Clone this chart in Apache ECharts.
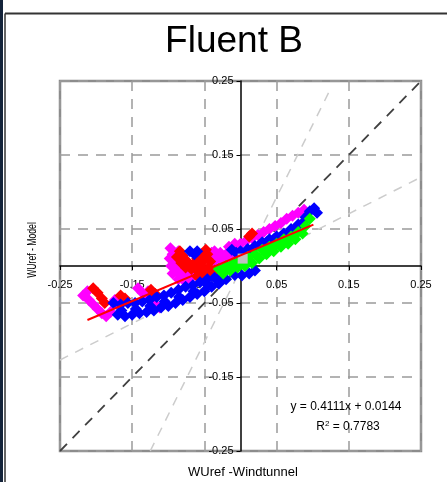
<!DOCTYPE html>
<html><head><meta charset="utf-8">
<script src="https://cdn.jsdelivr.net/npm/echarts@6/dist/echarts.min.js"></script>
<style>html,body{margin:0;padding:0;background:#fff;}#c{width:447px;height:482px;}</style>
</head><body><div id="c"></div>
<script>
var xTickLabels = ['-0.25','-0.15','-0.05','0.05','0.15','0.25'];
var yTickLabels = ['-0.25','-0.15','-0.05','0.05','0.15','0.25'];
var magentaPts = [[-0.218,-0.040],[-0.212,-0.034],[-0.210,-0.046],[-0.204,-0.052],[-0.198,-0.058],[-0.192,-0.064],[-0.186,-0.068],[-0.180,-0.062],[-0.174,-0.046],[-0.170,-0.052],
[-0.142,-0.030],[-0.136,-0.036],[-0.130,-0.042],[-0.124,-0.046],[-0.118,-0.052],[-0.112,-0.056],[-0.128,-0.034],
[-0.097,0.024],[-0.094,0.016],[-0.092,0.008],[-0.090,0.000],[-0.088,-0.008],[-0.082,-0.012],[-0.074,-0.014],[-0.066,-0.010],[-0.040,0.018],[-0.032,0.012],[-0.026,0.008],[-0.020,0.016],[-0.012,0.022],[-0.004,0.026],
[-0.098,0.010],[-0.096,0.000],[-0.094,-0.010],[-0.086,0.020],[-0.080,-0.006],[-0.072,-0.008],[-0.036,0.020],[-0.028,0.018],[-0.018,0.008],[-0.008,0.014],[-0.044,0.010],[-0.034,0.002],[-0.016,0.026],[-0.008,0.030],[-0.086,-0.018],[-0.078,-0.020],[-0.070,-0.018],
[0.000,0.030],[0.008,0.034],[0.016,0.038],[0.024,0.042],[0.032,0.046],[0.040,0.050],[0.048,0.054],[0.056,0.058],[0.064,0.064],[0.072,0.068],[0.080,0.072],[0.088,0.076]];
var redPts = [[-0.204,-0.030],[-0.198,-0.036],[-0.192,-0.044],[-0.188,-0.050],[-0.166,-0.040],[-0.160,-0.044],[-0.124,-0.032],[-0.118,-0.038],
[-0.088,0.012],[-0.082,0.004],[-0.076,-0.002],[-0.068,-0.004],[-0.060,-0.006],[-0.052,-0.004],[-0.044,-0.002],[-0.036,-0.006],[-0.028,-0.008],[-0.060,0.010],[-0.054,0.016],[-0.048,0.022],[-0.050,0.008],[-0.080,0.014],[-0.074,0.006],
[-0.084,0.020],[-0.078,0.010],[-0.070,0.002],[-0.064,0.004],[-0.056,0.002],[-0.046,0.016],[-0.042,0.006],[-0.040,-0.008],[-0.032,-0.010],[-0.024,-0.004],[-0.054,-0.010],[-0.060,-0.014],[-0.050,-0.012],
[0.012,0.040],[0.016,0.044]];
var bluePts = [[-0.176,-0.050],[-0.166,-0.052],[-0.156,-0.050],[-0.146,-0.050],[-0.136,-0.048],[-0.126,-0.046],[-0.116,-0.042],[-0.106,-0.040],[-0.096,-0.036],[-0.086,-0.032],[-0.076,-0.028],[-0.066,-0.026],[-0.056,-0.022],[-0.046,-0.018],[-0.036,-0.016],[-0.026,-0.012],
[-0.170,-0.066],[-0.160,-0.068],[-0.150,-0.066],[-0.140,-0.064],[-0.130,-0.062],[-0.120,-0.060],[-0.110,-0.056],[-0.100,-0.054],[-0.090,-0.050],[-0.080,-0.046],[-0.070,-0.042],[-0.060,-0.038],[-0.050,-0.034],[-0.040,-0.028],[-0.030,-0.024],[-0.020,-0.018],
[-0.165,-0.060],[-0.145,-0.058],[-0.125,-0.054],[-0.105,-0.048],[-0.085,-0.042],[-0.065,-0.034],[-0.045,-0.026],[-0.025,-0.018],
[-0.070,0.020],[-0.064,0.016],[-0.060,0.020],[-0.012,0.022],[-0.006,0.018],
[0.000,0.020],[0.010,0.023],[0.020,0.027],[0.030,0.032],[0.040,0.036],[0.050,0.040],[0.060,0.044],[0.070,0.050],[0.080,0.056],[0.090,0.066],[0.096,0.074],[0.102,0.078],[0.106,0.072],
[0.006,0.018],[0.016,0.022],[0.026,0.028],[0.036,0.032],[0.046,0.036],[0.056,0.040],[0.066,0.044],[0.076,0.050],[0.086,0.058],
[-0.008,-0.012],[0.002,-0.013],[0.012,-0.010],[0.020,-0.006]];
var greenPts = [[-0.030,-0.004],[-0.020,0.000],[-0.010,0.004],[0.000,0.008],[0.010,0.012],[0.020,0.016],[0.030,0.022],[0.040,0.026],[0.050,0.030],[0.060,0.036],[0.070,0.040],[0.080,0.046],[0.090,0.054],[0.096,0.064],
[-0.024,-0.010],[-0.014,-0.006],[-0.004,-0.002],[0.006,0.000],[0.016,0.004],[0.026,0.010],[0.036,0.016],[0.046,0.020],[0.056,0.026],[0.066,0.030],[0.076,0.036],[0.086,0.044]];
var grayPt = [[0.003,0.010]];
var trendLine = [[-0.212,-0.073],[0.101,0.056]];
var identityLine = [[-0.25,-0.25],[0.25,0.25]];
var steepLine = [[-0.125,-0.25],[0.124,0.238]];
var flatLine = [[-0.25,-0.127],[0.25,0.12]];

var chart = echarts.init(document.getElementById('c'), null, {renderer:'canvas'});
var FONT = 'Liberation Sans, Arial, sans-serif';
function fmt(v){ var s = v.toFixed(2); return s === '-0.00' ? '0.00' : s; }
function refLine(data, color, width, dash){
  return {type:'line', data:data, symbol:'none', silent:true, z:1,
    lineStyle:{color:color, width:width, type:dash}};
}
function scatter(data, color, size, sym){
  return {type:'scatter', data:data, symbol:sym||'diamond', symbolSize:size||12, z:3,
    itemStyle:{color:color, opacity:1}};
}
chart.setOption({
  animation:false,
  backgroundColor:'#fff',
  grid:{left:60, right:26, top:81, bottom:31, show:true, borderColor:'#8c8c8c', borderWidth:2.5, backgroundColor:'transparent'},
  xAxis:{type:'value', min:-0.25, max:0.25, interval:0.1, offset:-185,
    axisLine:{onZero:false, lineStyle:{color:'#000', width:1.5}},
    axisTick:{show:true, length:4, lineStyle:{color:'#000'}},
    axisLabel:{margin:13, fontSize:11, fontFamily:FONT, color:'#000', formatter:fmt, showMinLabel:true, showMaxLabel:true},
    splitLine:{show:true, lineStyle:{color:'#9a9a9a', width:1.5, type:[10,8]}}},
  yAxis:{type:'value', min:-0.25, max:0.25, interval:0.1, offset:-180.5,
    axisLine:{onZero:false, lineStyle:{color:'#000', width:1.5}},
    axisTick:{show:true, length:4, lineStyle:{color:'#000'}},
    axisLabel:{margin:7, fontSize:11, fontFamily:FONT, color:'#000', formatter:fmt, showMinLabel:true, showMaxLabel:true},
    splitLine:{show:true, lineStyle:{color:'#9a9a9a', width:1.5, type:[10,8]}}},
  series:[
    refLine(flatLine, '#cccccc', 1.5, [9,8]),
    refLine(steepLine, '#cccccc', 1.5, [9,8]),
    refLine(identityLine, '#404040', 1.8, [10,8]),
    scatter(magentaPts, '#ff00ff'),
    scatter(redPts, '#ff0000'),
    scatter(bluePts, '#0000ff'),
    scatter(greenPts, '#00ff00'),
    scatter(grayPt, '#c0c0c0', 10, 'rect'),
    {type:'line', data:trendLine, symbol:'none', z:5, lineStyle:{color:'#ff0000', width:2}}
  ],
  graphic:[
    {type:'rect', shape:{x:0, y:0, width:3, height:482}, style:{fill:'#14233a'}, z:10},
    {type:'line', shape:{x1:5, y1:482, x2:5, y2:13.5}, style:{stroke:'#333', lineWidth:1.5}, z:10},
    {type:'line', shape:{x1:5, y1:13.5, x2:447, y2:13.5}, style:{stroke:'#333', lineWidth:2}, z:10},
    {type:'text', x:234, y:42, style:{text:'Fluent B', font:'37px '+FONT, fill:'#000', textAlign:'center', textVerticalAlign:'middle'}, z:10},
    {type:'text', x:243, y:472, style:{text:'WUref -Windtunnel', font:'13px '+FONT, fill:'#000', textAlign:'center', textVerticalAlign:'middle'}, z:10},
    {type:'text', x:33, y:250, rotation:Math.PI/2, scaleX:0.72, style:{text:'WUref - Model', font:'12px '+FONT, fill:'#000', textAlign:'center', textVerticalAlign:'middle'}, z:10},
    {type:'text', x:346, y:407, style:{text:'y = 0.4111x + 0.0144', font:'12px '+FONT, fill:'#000', textAlign:'center', textVerticalAlign:'middle'}, z:10},
    {type:'text', x:348, y:427, style:{rich:{n:{fontSize:12, fontFamily:FONT, fill:'#000'}, s:{fontSize:8, fontFamily:FONT, fill:'#000', verticalAlign:'top', padding:[0,0,6,0]}}, text:'{n|R}{s|2}{n| = 0.7783}', textAlign:'center', textVerticalAlign:'middle'}, z:10}
  ]
});
</script></body></html>
